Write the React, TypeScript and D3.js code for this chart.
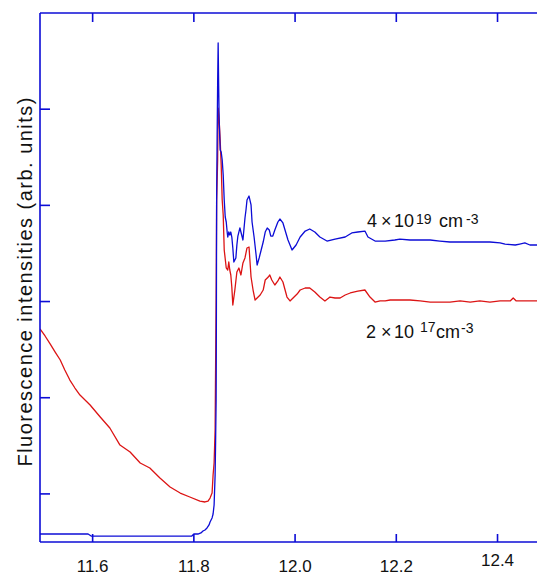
import React from "react";
import * as d3 from "d3";

// photon energy (eV) / fluorescence intensity (arb. units)
const redEnergy = [
  11.496, 11.506, 11.516, 11.526, 11.536, 11.545, 11.555, 11.565, 11.575, 11.595,
  11.615, 11.634, 11.654, 11.674, 11.694, 11.713, 11.733, 11.753, 11.773, 11.792,
  11.812, 11.822, 11.828, 11.832, 11.836, 11.838, 11.84, 11.842, 11.844, 11.845,
  11.847, 11.848, 11.85, 11.852, 11.854, 11.856, 11.858, 11.86, 11.864, 11.867,
  11.869, 11.871, 11.873, 11.875, 11.877, 11.881, 11.885, 11.889, 11.893, 11.897,
  11.901, 11.905, 11.909, 11.911, 11.913, 11.917, 11.921, 11.925, 11.931, 11.937,
  11.941, 11.947, 11.95, 11.954, 11.96, 11.966, 11.97, 11.976, 11.984, 11.99,
  11.996, 12.004, 12.01, 12.02, 12.029, 12.039, 12.049, 12.059, 12.069, 12.079,
  12.089, 12.099, 12.109, 12.124, 12.138, 12.148, 12.158, 12.168, 12.178, 12.188,
  12.207, 12.227, 12.247, 12.267, 12.286, 12.306, 12.326, 12.346, 12.365, 12.385,
  12.405, 12.425, 12.431, 12.437, 12.454, 12.478,
];
const redIntensity = [
  2.715, 2.642, 2.559, 2.475, 2.392, 2.288, 2.184, 2.101, 2.028, 1.924,
  1.8, 1.685, 1.508, 1.436, 1.321, 1.269, 1.165, 1.072, 1.009, 0.968,
  0.926, 0.916, 0.926, 0.957, 1.009, 1.197, 1.321, 1.664, 3.016, 4.035,
  4.472, 5.012, 4.888, 4.68, 4.42, 4.056, 3.9, 3.536, 3.349, 3.328,
  3.411, 3.328, 3.276, 3.151, 2.964, 3.12, 3.307, 3.349, 3.276, 3.401,
  3.453, 3.557, 3.567, 3.411, 3.255, 3.12, 3.016, 3.037, 3.068, 3.12,
  3.224, 3.255, 3.276, 3.224, 3.172, 3.214, 3.255, 3.203, 3.047, 3.006,
  3.037, 3.078, 3.12, 3.141, 3.141, 3.099, 3.047, 3.006, 3.047, 3.037,
  3.037, 3.068, 3.089, 3.109, 3.12, 3.047, 2.995, 3.006, 3.006, 3.016,
  3.016, 3.016, 3.006, 2.995, 2.995, 2.995, 3.006, 2.995, 3.006, 2.995,
  3.006, 3.006, 3.037, 3.006, 3.006, 3.006,
];

const blueEnergy = [
  11.496, 11.536, 11.575, 11.591, 11.597, 11.615, 11.654, 11.694, 11.733, 11.773,
  11.796, 11.8, 11.808, 11.814, 11.818, 11.822, 11.826, 11.83, 11.832, 11.834,
  11.836, 11.838, 11.84, 11.842, 11.843, 11.844, 11.8445, 11.845, 11.846, 11.847,
  11.848, 11.849, 11.85, 11.852, 11.854, 11.856, 11.858, 11.86, 11.862, 11.864,
  11.866, 11.867, 11.869, 11.871, 11.873, 11.875, 11.877, 11.879, 11.883, 11.885,
  11.887, 11.891, 11.893, 11.897, 11.901, 11.903, 11.905, 11.909, 11.913, 11.915,
  11.919, 11.923, 11.925, 11.929, 11.933, 11.937, 11.941, 11.945, 11.949, 11.952,
  11.956, 11.96, 11.966, 11.97, 11.976, 11.986, 11.994, 12.002, 12.01, 12.02,
  12.029, 12.039, 12.049, 12.063, 12.079, 12.099, 12.112, 12.124, 12.138, 12.144,
  12.158, 12.178, 12.197, 12.207, 12.227, 12.247, 12.267, 12.286, 12.306, 12.326,
  12.346, 12.365, 12.385, 12.405, 12.415, 12.435, 12.444, 12.454, 12.464, 12.478,
];
const blueIntensity = [
  0.583, 0.583, 0.583, 0.583, 0.562, 0.562, 0.562, 0.562, 0.562, 0.562,
  0.562, 0.583, 0.583, 0.594, 0.614, 0.625, 0.646, 0.677, 0.708, 0.729,
  0.75, 0.791, 0.885, 1.197, 1.55, 1.976, 2.808, 4.056, 4.711, 5.272,
  5.688, 5.251, 4.888, 4.576, 4.555, 4.472, 4.316, 4.056, 3.879, 3.827,
  3.713, 3.671, 3.723, 3.692, 3.723, 3.671, 3.557, 3.411, 3.453, 3.588,
  3.681, 3.765, 3.723, 3.64, 3.869, 3.952, 4.056, 4.097, 4.004, 3.827,
  3.671, 3.484, 3.38, 3.453, 3.536, 3.619, 3.723, 3.765, 3.744, 3.681,
  3.681, 3.744, 3.827, 3.858, 3.817, 3.64, 3.536, 3.588, 3.671, 3.733,
  3.754, 3.723, 3.671, 3.629, 3.65, 3.671, 3.713, 3.723, 3.733, 3.671,
  3.629, 3.629, 3.64, 3.65, 3.64, 3.64, 3.64, 3.629, 3.619, 3.619,
  3.619, 3.619, 3.619, 3.609, 3.598, 3.588, 3.598, 3.609, 3.588, 3.588,
];

const xTicks = [11.6, 11.8, 12.0, 12.2, 12.4];
const yTicks = [1, 2, 3, 4, 5];

const W = 537;
const H = 576;
const left = 40;
const top = 13;
const bottom = 542;
const right = 537;

const BLUE = "#0c0cd6";
const RED = "#dc1414";
const FONT = "'Liberation Sans', Arial, Helvetica, sans-serif";

export default function App() {
  const x = d3.scaleLinear().domain([11.496, 12.478]).range([left, right]);
  const y = d3.scaleLinear().domain([0.5, 6]).range([bottom, top]);

  const line = d3
    .line<[number, number]>()
    .x((d) => x(d[0]))
    .y((d) => y(d[1]));

  const red = redEnergy.map((e, i) => [e, redIntensity[i]] as [number, number]);
  const blue = blueEnergy.map((e, i) => [e, blueIntensity[i]] as [number, number]);

  return (
    <svg
      width={W}
      height={H}
      style={{ position: "fixed", left: 0, top: 0, background: "#fff" }}
      fontFamily={FONT}
    >
      <defs>
        <clipPath id="plot">
          <rect x={left} y={top} width={right - left} height={bottom - top} />
        </clipPath>
      </defs>

      <g clipPath="url(#plot)" fill="none" strokeWidth={1.3} strokeLinejoin="round">
        <path d={line(red) || ""} stroke={RED} />
        <path d={line(blue) || ""} stroke={BLUE} />
      </g>

      {/* frame */}
      <g stroke={BLUE} strokeWidth={1.6} fill="none">
        <line x1={left} x2={right} y1={top} y2={top} />
        <line x1={left} x2={right} y1={bottom} y2={bottom} />
        <line x1={left} x2={left} y1={top} y2={bottom} />
        {xTicks.map((t) => (
          <g key={"xt" + t}>
            <line x1={x(t)} x2={x(t)} y1={bottom} y2={bottom - 8} />
            <line x1={x(t)} x2={x(t)} y1={top} y2={top + 9} />
          </g>
        ))}
        {yTicks.map((t) => (
          <line key={"yt" + t} x1={left} x2={left + 10} y1={y(t)} y2={y(t)} />
        ))}
      </g>

      {xTicks.map((t) => (
        <text
          key={"xl" + t}
          x={x(t)}
          y={t === 12.4 ? 566 : 572}
          textAnchor="middle"
          fontSize={17}
          fill="#111"
        >
          {t.toFixed(1)}
        </text>
      ))}

      <text
        transform="translate(32,282) rotate(-90)"
        textAnchor="middle"
        fontSize={20}
        fill="#111"
        textLength={369}
        lengthAdjust="spacing"
      >
        Fluorescence intensities (arb. units)
      </text>

      <text fontSize={18} fill="#111" y={227}>
        <tspan x={367}>4</tspan>
        <tspan x={381}>×</tspan>
        <tspan x={394}>10</tspan>
        <tspan x={416} fontSize={14} dy={-3}>19</tspan>
        <tspan x={439} dy={3}>cm</tspan>
        <tspan x={466} fontSize={14} dy={-3}>-3</tspan>
      </text>

      <text fontSize={18} fill="#111" y={338}>
        <tspan x={366}>2</tspan>
        <tspan x={381}>×</tspan>
        <tspan x={394}>10</tspan>
        <tspan x={420} fontSize={14} dy={-6}>17</tspan>
        <tspan x={436} dy={6}>cm</tspan>
        <tspan x={461} fontSize={14} dy={-5}>-3</tspan>
      </text>
    </svg>
  );
}
